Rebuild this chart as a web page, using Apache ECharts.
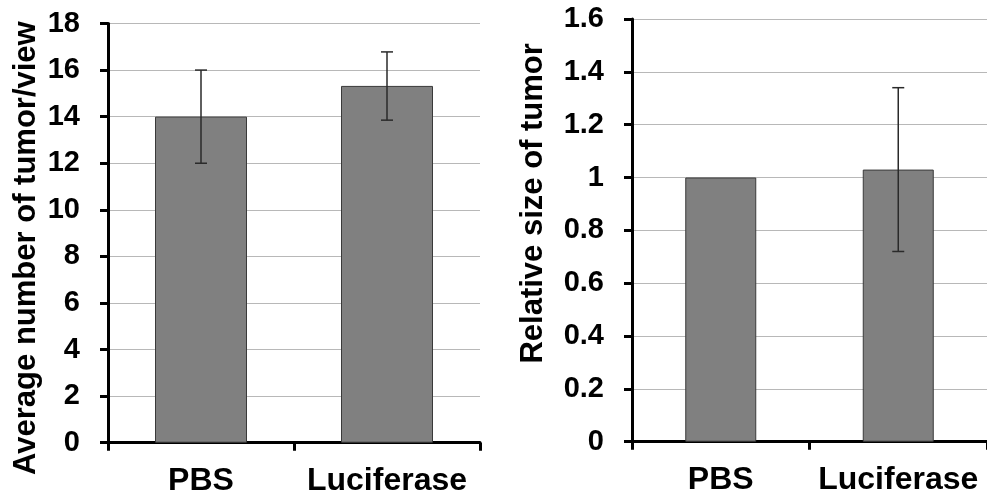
<!DOCTYPE html>
<html>
<head>
<meta charset="utf-8">
<script src="https://cdn.jsdelivr.net/npm/echarts@6/dist/echarts.min.js"></script>
<style>
html,body{margin:0;padding:0;background:#fff;}
#chart{width:987px;height:497px;}
</style>
</head>
<body>
<div id="chart"></div>
<script>
var categories = ['PBS', 'Luciferase'];
var tumorCount = [14, 15.32];
var tumorCountLow = [12, 13.85];
var tumorCountHigh = [16, 16.78];
var relSize = [1, 1.03];
var relSizeLow = [null, 0.72];
var relSizeHigh = [null, 1.34];
var leftTicks = {min: 0, max: 18, interval: 2};
var rightTicks = {min: 0, max: 1.6, interval: 0.2};

var FONT = '"Liberation Sans", Arial, sans-serif';

function errData(low, high) {
  var out = [];
  for (var i = 0; i < categories.length; i++) {
    if (low[i] != null) out.push([i, low[i], high[i]]);
  }
  return out;
}

function errRender(params, api) {
  var x = api.value(0);
  var lo = api.coord([x, api.value(1)]);
  var hi = api.coord([x, api.value(2)]);
  var hw = 6;
  var style = {stroke: '#2a2a2a', lineWidth: 1.5};
  return {
    type: 'group',
    children: [
      {type: 'line', shape: {x1: lo[0], y1: lo[1], x2: hi[0], y2: hi[1]}, style: style},
      {type: 'line', shape: {x1: lo[0] - hw, y1: lo[1], x2: lo[0] + hw, y2: lo[1]}, style: style},
      {type: 'line', shape: {x1: hi[0] - hw, y1: hi[1], x2: hi[0] + hw, y2: hi[1]}, style: style}
    ]
  };
}

function xAx(gi) {
  return {
    type: 'category', gridIndex: gi, data: categories,
    axisLine: {lineStyle: {color: '#000', width: 3}},
    axisTick: {show: true, length: 8, interval: 0, lineStyle: {color: '#000', width: 3}},
    axisLabel: {color: '#000', fontFamily: FONT, fontWeight: 'bold', fontSize: 32, margin: 22,
                interval: 0, hideOverlap: false},
    splitLine: {show: false}
  };
}

function yAx(gi, t, name, gap, pad, fmt) {
  return {
    type: 'value', gridIndex: gi, min: t.min, max: t.max, interval: t.interval,
    name: name, nameLocation: 'middle', nameRotate: 90, nameGap: gap,
    nameTextStyle: {color: '#000', fontFamily: FONT, fontWeight: 'bold', fontSize: 31, padding: pad},
    axisLine: {show: true, lineStyle: {color: '#000', width: 3}},
    axisTick: {show: true, length: 8, lineStyle: {color: '#000', width: 3}},
    axisLabel: {color: '#000', fontFamily: FONT, fontWeight: 'bold', fontSize: 29, margin: 28, formatter: fmt},
    splitLine: {show: true, lineStyle: {color: '#b8b8b8', width: 1}}
  };
}

var chart = echarts.init(document.getElementById('chart'));
chart.setOption({
  backgroundColor: '#fff',
  animation: false,
  grid: [
    {left: 108, top: 23.5, width: 372, height: 419.2},
    {left: 632, top: 19, width: 355, height: 422.7}
  ],
  xAxis: [xAx(0), xAx(1)],
  yAxis: [
    yAx(0, leftTicks, 'Average number of tumor/view', 66, [0, 30, 0, 0], function (v) { return String(v); }),
    yAx(1, rightTicks, 'Relative size of tumor', 83, [0, 0, 0, 54], function (v) { return String(Math.round(v * 10) / 10); })
  ],
  series: [
    {type: 'bar', xAxisIndex: 0, yAxisIndex: 0, data: tumorCount, barWidth: 92,
     itemStyle: {color: '#808080', borderColor: '#3a3a3a', borderWidth: 1}},
    {type: 'custom', xAxisIndex: 0, yAxisIndex: 0, data: errData(tumorCountLow, tumorCountHigh), renderItem: errRender, z: 5},
    {type: 'bar', xAxisIndex: 1, yAxisIndex: 1, data: relSize, barWidth: 71,
     itemStyle: {color: '#808080', borderColor: '#3a3a3a', borderWidth: 1}},
    {type: 'custom', xAxisIndex: 1, yAxisIndex: 1, data: errData(relSizeLow, relSizeHigh), renderItem: errRender, z: 5}
  ]
});
</script>
</body>
</html>
